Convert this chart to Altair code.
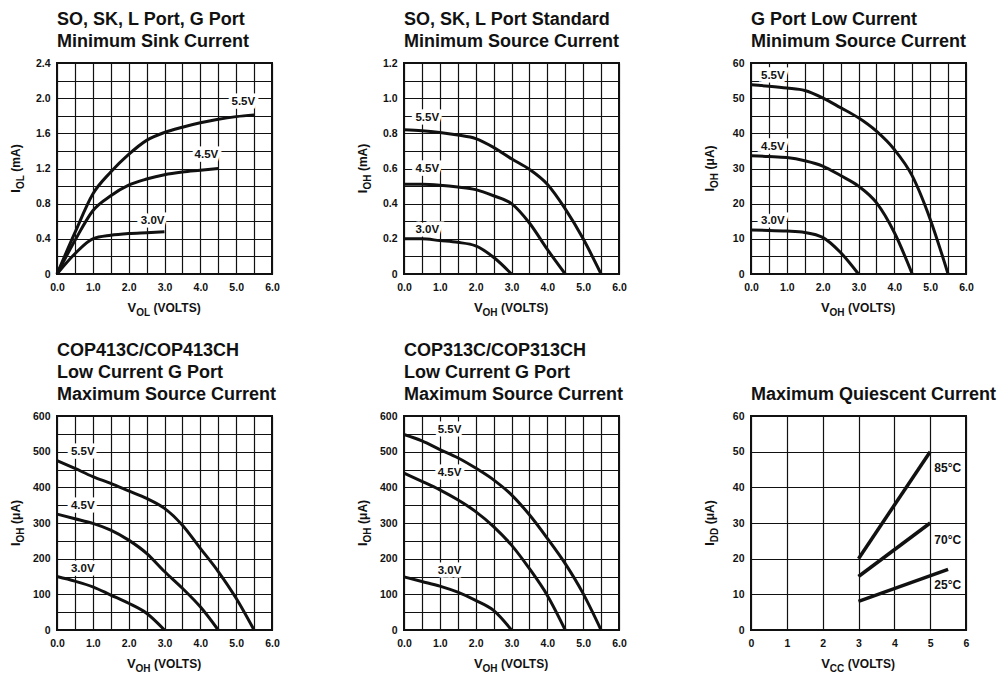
import altair as alt
import pandas as pd

# ---------------- data ----------------
VX = [0.0, 0.5, 1.0, 1.5, 2.0, 2.5, 3.0, 3.5, 4.0, 4.5, 5.0, 5.5]
SUPPLY = ["5.5V", "4.5V", "3.0V"]

SINK_55 = [0, 0.47, 0.91, 1.16, 1.36, 1.52, 1.61, 1.67, 1.72, 1.76, 1.79, 1.81]
SINK_45 = [0, 0.38, 0.72, 0.89, 1.01, 1.08, 1.13, 1.16, 1.18, 1.20]
SINK_30 = [0, 0.23, 0.40, 0.44, 0.46, 0.47, 0.48]

STD_55 = [0.82, 0.815, 0.805, 0.79, 0.77, 0.72, 0.655, 0.595, 0.51, 0.37, 0.20, 0]
STD_45 = [0.51, 0.51, 0.505, 0.495, 0.48, 0.445, 0.40, 0.29, 0.14, 0]
STD_30 = [0.20, 0.20, 0.19, 0.18, 0.16, 0.095, 0]

GLC_55 = [53.8, 53.4, 52.9, 52.2, 50.1, 47.3, 44.4, 40.6, 35.4, 27.9, 15.6, 0]
GLC_45 = [33.6, 33.4, 33.1, 32.2, 30.7, 28.0, 25.0, 20.3, 11.8, 0]
GLC_30 = [12.5, 12.4, 12.2, 11.8, 10.4, 6.1, 0]

C413_55 = [475, 453, 430, 411, 390, 369, 341, 294, 229, 164, 89, 0]
C413_45 = [325, 312, 299, 280, 252, 215, 164, 117, 65, 0]
C413_30 = [150, 137, 121, 98, 75, 47, 0]

C313_55 = [548, 530, 506, 483, 454, 421, 379, 323, 257, 186, 102, 0]
C313_45 = [440, 417, 393, 365, 332, 290, 238, 172, 97, 0]
C313_30 = [149, 136, 123, 106, 83, 55, 0]

TEMPS = ["85°C", "70°C", "25°C"]
VCC_85 = [3, 5]
VCC_70 = [3, 5]
VCC_25 = [3, 5.5]
IDD_85 = [20, 50]
IDD_70 = [15, 30]
IDD_25 = [8, 17]

# curve-label anchor points
SINK_LBL_X = [5.2, 4.17, 2.67]
SINK_LBL_Y = [1.96, 1.35, 0.60]
STD_LBL_X = [0.65, 0.65, 0.65]
STD_LBL_Y = [0.885, 0.60, 0.25]
GLC_LBL_X = [0.61, 0.61, 0.61]
GLC_LBL_Y = [56.2, 36.2, 15.1]
C413_LBL_X = [0.72, 0.72, 0.72]
C413_LBL_Y = [498, 349, 171]
C313_LBL_X = [1.27, 1.27, 1.27]
C313_LBL_Y = [560, 440, 165]
IDD_LBL_X = [5.49, 5.49, 5.49]
IDD_LBL_Y = [45.5, 25.1, 12.5]

TITLE_1 = ["SO, SK, L Port, G Port", "Minimum Sink Current"]
TITLE_2 = ["SO, SK, L Port Standard", "Minimum Source Current"]
TITLE_3 = ["G Port Low Current", "Minimum Source Current"]
TITLE_4 = ["COP413C/COP413CH", "Low Current G Port", "Maximum Source Current"]
TITLE_5 = ["COP313C/COP313CH", "Low Current G Port", "Maximum Source Current"]
TITLE_6 = ["Maximum Quiescent Current"]

# ---------------- styling ----------------
FONT = "Liberation Sans"
BLACK = "#111111"
CW = {'I': 278, 'V': 667, 'O': 778, 'L': 611, 'H': 722, 'D': 722, 'C': 722,
      ' ': 278, '(': 333, ')': 333, 'm': 889, 'A': 722, 'μ': 611, 'T': 611, 'S': 667}
GAP = 3.5


def tw(s, size):
    return sum(CW.get(c, 600) for c in s) / 1000.0 * size


ONE = pd.DataFrame({"k": [0]})


def piece(text, size, x, y, angle=0):
    return alt.Chart(ONE).mark_text(
        text=text, font=FONT, fontSize=size, fontWeight="bold", color=BLACK,
        align="left", baseline="alphabetic", angle=angle
    ).encode(x=alt.value(x), y=alt.value(y))


def x_title(parts, w, h):
    main, sub, rest = parts
    wm, ws, wr = tw(main, 13), tw(sub, 10), tw(rest, 12)
    x0 = w / 2 - (wm + ws + GAP + wr) / 2
    yb = h + 38
    return [piece(main, 13, x0, yb), piece(sub, 10, x0 + wm, yb + 4),
            piece(rest, 12, x0 + wm + ws + GAP, yb)]


def y_title(parts, w, h):
    main, sub, rest = parts
    wm, ws, wr = tw(main, 13), tw(sub, 10), tw(rest, 12)
    y0 = h / 2 + (wm + ws + GAP + wr) / 2
    xb = -37
    return [piece(main, 13, xb, y0, 270), piece(sub, 10, xb + 4, y0 - wm, 270),
            piece(rest, 12, xb, y0 - wm - ws - GAP, 270)]


def label_expr(step, fmt, zero_text):
    return (f"abs(datum.value / {step} - round(datum.value / {step})) < 0.001 ? "
            f"(datum.value == 0 ? '{zero_text}' : format(datum.value, '{fmt}')) : ''")


def panel(title, xs_list, ys_list, names, lbl_x, lbl_y, xmax, xgrid, xlab, xfmt, xzero,
          ymax, ygrid, ylab, yfmt, ytp, xtp, w, h, interp="monotone", lbl_size=11.5,
          halo=True, lbl_align="center", lw=3):
    rows = []
    for n, xs, ys in zip(names, xs_list, ys_list):
        for a, b in zip(xs, ys):
            rows.append({"x": a, "y": b, "s": n})
    df = pd.DataFrame(rows)
    ldf = pd.DataFrame({"x": lbl_x, "y": lbl_y, "t": names})

    xvals = [round(i * xgrid, 6) for i in range(int(round(xmax / xgrid)) + 1)]
    yvals = [round(i * ygrid, 6) for i in range(int(round(ymax / ygrid)) + 1)]
    xaxis = alt.Axis(values=xvals, labelExpr=label_expr(xlab, xfmt, xzero), title=None)
    yaxis = alt.Axis(values=yvals, labelExpr=label_expr(ylab, yfmt, "0"), title=None)
    xenc = alt.X("x:Q", scale=alt.Scale(domain=[0, xmax], nice=False, zero=True), axis=xaxis)
    yenc = alt.Y("y:Q", scale=alt.Scale(domain=[0, ymax], nice=False, zero=True), axis=yaxis)

    lines = alt.Chart(df).mark_line(color=BLACK, strokeWidth=lw, interpolate=interp,
                                    strokeCap="butt").encode(x=xenc, y=yenc, detail="s:N")
    layers = [lines]
    if halo:
        layers.append(alt.Chart(ldf).mark_text(
            font=FONT, fontSize=lbl_size, fontWeight="bold", color="white", stroke="white",
            strokeWidth=7, align=lbl_align, baseline="middle"
        ).encode(x=xenc, y=yenc, text="t:N"))
    layers.append(alt.Chart(ldf).mark_text(
        font=FONT, fontSize=lbl_size, fontWeight="bold", color=BLACK,
        align=lbl_align, baseline="middle"
    ).encode(x=xenc, y=yenc, text="t:N"))
    layers += x_title(xtp, w, h) + y_title(ytp, w, h)
    return alt.layer(*layers).properties(width=w, height=h, title=alt.TitleParams(text=title))


W = 215
H_TOP = 211
H_BOT = 214

p1 = panel(TITLE_1, [VX, VX[:10], VX[:7]], [SINK_55, SINK_45, SINK_30], SUPPLY,
           SINK_LBL_X, SINK_LBL_Y, 6, 0.5, 1, ".1f", "0.0", 2.4, 0.2, 0.4, ".1f",
           ("I", "OL", "(mA)"), ("V", "OL", "(VOLTS)"), W, H_TOP)
p2 = panel(TITLE_2, [VX, VX[:10], VX[:7]], [STD_55, STD_45, STD_30], SUPPLY,
           STD_LBL_X, STD_LBL_Y, 6, 0.5, 1, ".1f", "0.0", 1.2, 0.1, 0.2, ".1f",
           ("I", "OH", "(mA)"), ("V", "OH", "(VOLTS)"), W, H_TOP)
p3 = panel(TITLE_3, [VX, VX[:10], VX[:7]], [GLC_55, GLC_45, GLC_30], SUPPLY,
           GLC_LBL_X, GLC_LBL_Y, 6, 0.5, 1, ".1f", "0.0", 60, 5, 10, "d",
           ("I", "OH", "(μA)"), ("V", "OH", "(VOLTS)"), W, H_TOP)
p4 = panel(TITLE_4, [VX, VX[:10], VX[:7]], [C413_55, C413_45, C413_30], SUPPLY,
           C413_LBL_X, C413_LBL_Y, 6, 0.5, 1, ".1f", "0.0", 600, 50, 100, "d",
           ("I", "OH", "(μA)"), ("V", "OH", "(VOLTS)"), W, H_BOT)
p5 = panel(TITLE_5, [VX, VX[:10], VX[:7]], [C313_55, C313_45, C313_30], SUPPLY,
           C313_LBL_X, C313_LBL_Y, 6, 0.5, 1, ".1f", "0.0", 600, 50, 100, "d",
           ("I", "OH", "(μA)"), ("V", "OH", "(VOLTS)"), W, H_BOT)
p6 = panel(TITLE_6, [VCC_85, VCC_70, VCC_25], [IDD_85, IDD_70, IDD_25], TEMPS,
           IDD_LBL_X, IDD_LBL_Y, 6, 1, 1, "d", "0", 60, 10, 10, "d",
           ("I", "DD", "(μA)"), ("V", "CC", "(VOLTS)"), W, H_BOT,
           interp="linear", lbl_size=12, halo=False, lw=3.5)

chart = alt.concat(
    p1, p2, p3, p4, p5, p6, columns=3, spacing={"row": 142, "column": 132}, bounds="flush"
).properties(
    padding={"left": 0, "top": 2, "right": 0, "bottom": 0}
).configure(background="white").configure_view(
    stroke=BLACK, strokeWidth=2
).configure_axis(
    grid=True, gridColor=BLACK, gridWidth=1.2, gridOpacity=1, domain=False, ticks=False,
    tickSize=0, labelFont=FONT, labelFontSize=10.5, labelFontWeight="bold", labelColor=BLACK,
    labelFlush=False, labelOverlap=False
).configure_axisX(labelPadding=8).configure_axisY(labelPadding=7).configure_title(
    font=FONT, fontSize=18, fontWeight="bold", anchor="start", frame="group", offset=7,
    lineHeight=22, color=BLACK
)

chart.save("out.html", embed_options={"renderer": "svg", "actions": False})
